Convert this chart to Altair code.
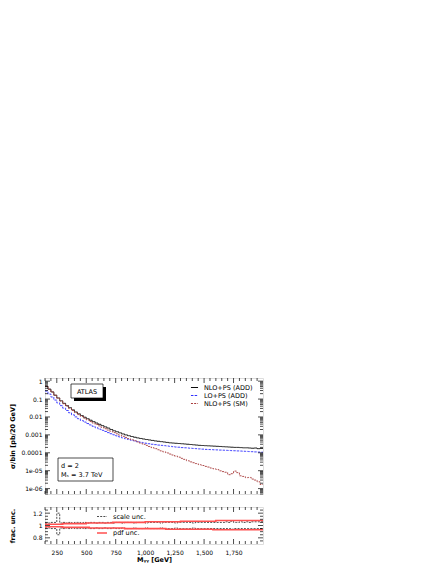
import altair as alt
import pandas as pd

W, H1, H2 = 218, 116, 37

bin_lo = [150 + 25 * i for i in range(74)]
x_end = 2000

nlo_add = [0.52, 0.36, 0.25, 0.165, 0.115, 0.080, 0.058, 0.043, 0.033, 0.025,
           0.019, 0.015, 0.012, 0.0097, 0.0080, 0.0066, 0.0055, 0.0046, 0.0039, 0.0033,
           0.0028, 0.0024, 0.0020, 0.0017, 0.0015, 0.0013, 0.00113, 0.00100, 0.00090, 0.00081,
           0.00074, 0.00068, 0.00063, 0.00059, 0.00055, 0.00052, 0.00049, 0.00046, 0.00044, 0.00042,
           0.00040, 0.00038, 0.00036, 0.00035, 0.00034, 0.00033, 0.00032, 0.00031, 0.00030, 0.00029,
           0.00028, 0.00027, 0.00026, 0.000255, 0.00025, 0.000245, 0.00024, 0.000235, 0.00023, 0.000225,
           0.00022, 0.000215, 0.00021, 0.000205, 0.00020, 0.00020, 0.000195, 0.00019, 0.00019, 0.000185,
           0.00018, 0.000185, 0.00017, 0.000175]
lo_add = [0.28, 0.19, 0.13, 0.088, 0.061, 0.043, 0.031, 0.023, 0.0172, 0.0131,
          0.0101, 0.0080, 0.0064, 0.0052, 0.0043, 0.0036, 0.0030, 0.0025, 0.0021, 0.0018,
          0.00155, 0.00134, 0.00116, 0.00101, 0.00088, 0.00077, 0.00068, 0.00061, 0.00055, 0.00050,
          0.00046, 0.00042, 0.00039, 0.00036, 0.00034, 0.00032, 0.00030, 0.000285, 0.00027, 0.00026,
          0.00025, 0.00024, 0.00023, 0.00022, 0.00021, 0.000205, 0.000195, 0.00019, 0.000185, 0.00018,
          0.000175, 0.00017, 0.000165, 0.00016, 0.000155, 0.000152, 0.00015, 0.000147, 0.000145, 0.000142,
          0.00014, 0.000137, 0.000135, 0.000132, 0.00013, 0.000127, 0.000125, 0.000122, 0.00012, 0.000117,
          0.000115, 0.000112, 0.00011, 0.000108]
nlo_sm = [0.52, 0.35, 0.245, 0.16, 0.112, 0.078, 0.055, 0.040, 0.030, 0.023,
          0.0175, 0.0136, 0.0107, 0.0086, 0.0069, 0.0056, 0.0046, 0.0038, 0.0032, 0.0026,
          0.0022, 0.00186, 0.00158, 0.00134, 0.00115, 0.00097, 0.00083, 0.00072, 0.00062, 0.00054,
          0.00047, 0.00041, 0.00035, 0.00030, 0.00026, 0.000225, 0.000195, 0.00017, 0.000148, 0.000128,
          0.000112, 9.8e-5, 8.5e-5, 7.5e-5, 6.5e-5, 5.7e-5, 4.9e-5, 4.3e-5, 3.6e-5, 3.1e-5,
          2.8e-5, 2.5e-5, 2.2e-5, 1.95e-5, 1.74e-5, 1.6e-5, 1.41e-5, 1.28e-5, 1.17e-5, 9.8e-6,
          8.9e-6, 8.2e-6, 6.0e-6, 6.8e-6, 9.5e-6, 7.8e-6, 5.2e-6, 4.8e-6, 4.1e-6, 4.2e-6,
          3.4e-6, 3.0e-6, 2.4e-6, 1.7e-6]

scale_up = [1.04, 1.04, 1.05, 1.05, 1.20, 1.04, 1.05, 1.04, 1.05, 1.04, 1.05, 1.05, 1.04, 1.05,
            1.04, 1.05, 1.05, 1.04, 1.05, 1.05, 1.04, 1.05, 1.05, 1.04, 1.05, 1.05, 1.04, 1.05,
            1.05, 1.05, 1.04, 1.05, 1.05, 1.05, 1.04, 1.05, 1.05, 1.05, 1.05, 1.04, 1.05, 1.05,
            1.05, 1.05, 1.04, 1.05, 1.05, 1.05, 1.05, 1.05, 1.04, 1.05, 1.05, 1.05, 1.05, 1.05,
            1.05, 1.05, 1.05, 1.05, 1.05, 1.06, 1.05, 1.07, 1.05, 1.05, 1.06, 1.05, 1.06, 1.05,
            1.06, 1.06, 1.06, 1.06]
scale_dn = [0.96, 0.96, 0.95, 0.95, 0.85, 0.96, 0.95, 0.96, 0.95, 0.96, 0.95, 0.95, 0.96, 0.95,
            0.96, 0.95, 0.95, 0.96, 0.95, 0.95, 0.96, 0.95, 0.95, 0.96, 0.95, 0.95, 0.96, 0.95,
            0.95, 0.95, 0.96, 0.95, 0.95, 0.95, 0.96, 0.95, 0.95, 0.95, 0.95, 0.96, 0.95, 0.95,
            0.95, 0.95, 0.96, 0.95, 0.95, 0.95, 0.95, 0.95, 0.96, 0.95, 0.95, 0.95, 0.95, 0.95,
            0.95, 0.95, 0.95, 0.95, 0.95, 0.95, 0.95, 0.94, 0.95, 0.95, 0.95, 0.95, 0.95, 0.95,
            0.95, 0.95, 0.95, 0.95]
pdf_up = [1.02, 1.02, 1.02, 1.02, 1.02, 1.02, 1.03, 1.03, 1.03, 1.03, 1.03, 1.03, 1.03, 1.03,
          1.04, 1.04, 1.04, 1.04, 1.04, 1.04, 1.04, 1.04, 1.04, 1.05, 1.05, 1.05, 1.05, 1.05,
          1.05, 1.05, 1.05, 1.05, 1.05, 1.05, 1.06, 1.06, 1.06, 1.06, 1.06, 1.06, 1.06, 1.06,
          1.06, 1.06, 1.06, 1.06, 1.07, 1.07, 1.07, 1.07, 1.07, 1.07, 1.07, 1.07, 1.07, 1.07,
          1.07, 1.07, 1.08, 1.08, 1.08, 1.08, 1.08, 1.08, 1.08, 1.08, 1.08, 1.08, 1.08, 1.08,
          1.08, 1.08, 1.08, 1.08]
pdf_dn = [0.98, 0.98, 0.98, 0.98, 0.98, 0.98, 0.97, 0.97, 0.97, 0.97, 0.97, 0.97, 0.97, 0.97,
          0.97, 0.96, 0.96, 0.96, 0.96, 0.96, 0.96, 0.96, 0.96, 0.96, 0.96, 0.96, 0.96, 0.95,
          0.95, 0.95, 0.95, 0.95, 0.95, 0.95, 0.95, 0.95, 0.95, 0.95, 0.95, 0.95, 0.95, 0.94,
          0.94, 0.94, 0.94, 0.94, 0.94, 0.94, 0.94, 0.94, 0.94, 0.94, 0.94, 0.94, 0.94, 0.94,
          0.94, 0.93, 0.93, 0.93, 0.93, 0.93, 0.93, 0.93, 0.93, 0.93, 0.93, 0.93, 0.93, 0.93,
          0.93, 0.93, 0.93, 0.93]

series_names = ["NLO+PS (ADD)", "LO+PS (ADD)", "NLO+PS (SM)"]
series_colors = ["#000000", "#3030ff", "#a83c3c"]
series_dash = [[1, 0], [2.5, 1.2], [2, 1.2]]

x_major = [250, 500, 750, 1000, 1250, 1500, 1750]
x_minor = [v for v in range(150, 2001, 50) if v % 250]
y_major = [1e-6, 1e-5, 1e-4, 1e-3, 1e-2, 1e-1, 1]
y_labels = ['1e-06', '1e-05', '0.0001', '0.001', '0.01', '0.1', '1']
y_minor = [j * 10.0 ** k for k in range(-7, 1) for j in range(2, 10) if 5e-7 <= j * 10.0 ** k <= 1.5]
r_major = [0.8, 1.0, 1.2]
r_labels = ['0.8', '1', '1.2']
r_minor = [0.75, 0.85, 0.9, 0.95, 1.05, 1.1, 1.15, 1.25]

FONT = "DejaVu Sans"


def step_rows(name, vals, field="v", key="series"):
    xs = bin_lo + [x_end]
    ys = list(vals) + [vals[-1]]
    return [{"m": a, field: b, key: name} for a, b in zip(xs, ys)]


rows = []
for n, v in zip(series_names, [nlo_add, lo_add, nlo_sm]):
    rows += step_rows(n, v)
df_main = pd.DataFrame(rows)

xscale = alt.Scale(domain=[150, 2000], nice=False, zero=False)
yscale = alt.Scale(type="log", domain=[5e-7, 1.5], nice=False)
rscale = alt.Scale(domain=[0.7, 1.3], nice=False, zero=False)

leg_main = alt.Legend(title=None, orient="none", legendX=145, legendY=5, labelFont=FONT,
                      labelFontSize=6.5, symbolType="stroke", symbolSize=50, symbolStrokeWidth=1,
                      rowPadding=0, labelOffset=5, padding=0)

lines = alt.Chart(df_main).mark_line(interpolate="step-after", strokeWidth=0.9).encode(
    x=alt.X("m:Q", scale=xscale,
            axis=alt.Axis(labels=False, ticks=False, domain=False, grid=False, title=None)),
    y=alt.Y("v:Q", scale=yscale,
            axis=alt.Axis(values=y_major, ticks=False, domain=False, grid=False,
                          labelExpr="%s[round(log(datum.value)/LN10)+6]" % str(y_labels),
                          labelFont=FONT, labelFontSize=6, labelPadding=3,
                          title="σ/bin [pb/20 GeV]", titleFont=FONT, titleFontSize=6.5,
                          titleFontWeight="bold", titleX=-30)),
    color=alt.Color("series:N", scale=alt.Scale(domain=series_names, range=series_colors),
                    legend=leg_main),
    strokeDash=alt.StrokeDash("series:N", scale=alt.Scale(domain=series_names, range=series_dash),
                              legend=leg_main),
)


def xticks(vals, size, h, xs):
    d = pd.DataFrame({"m": vals})
    b = alt.Chart(d).mark_rule(color="black", strokeWidth=0.7).encode(
        x=alt.X("m:Q", scale=xs, axis=None), y=alt.value(h), y2=alt.value(h - size))
    t = alt.Chart(d).mark_rule(color="black", strokeWidth=0.7).encode(
        x=alt.X("m:Q", scale=xs, axis=None), y=alt.value(0), y2=alt.value(size))
    return [b, t]


def yticks(vals, size, field, ys):
    d = pd.DataFrame({field: vals})
    l = alt.Chart(d).mark_rule(color="black", strokeWidth=0.7).encode(
        y=alt.Y(field + ":Q", scale=ys, axis=None), x=alt.value(0), x2=alt.value(size))
    r = alt.Chart(d).mark_rule(color="black", strokeWidth=0.7).encode(
        y=alt.Y(field + ":Q", scale=ys, axis=None), x=alt.value(W), x2=alt.value(W - size))
    return [l, r]


one = pd.DataFrame({"a": [0]})
atlas_shadow = alt.Chart(one).mark_rect(color="black").encode(
    x=alt.value(29), x2=alt.value(61), y=alt.value(9), y2=alt.value(23))
atlas_box = alt.Chart(one).mark_rect(fill="white", stroke="black", strokeWidth=0.7).encode(
    x=alt.value(26), x2=alt.value(58), y=alt.value(6), y2=alt.value(20))
atlas_txt = alt.Chart(one).mark_text(text="ATLAS", font=FONT, fontSize=6.5).encode(
    x=alt.value(42), y=alt.value(13.5))
par_box = alt.Chart(one).mark_rect(fill="white", stroke="black", strokeWidth=0.7).encode(
    x=alt.value(13), x2=alt.value(68), y=alt.value(80), y2=alt.value(103))
par_txt1 = alt.Chart(one).mark_text(text="d = 2", font=FONT, fontSize=6.5, align="left").encode(
    x=alt.value(16), y=alt.value(88))
par_txt2 = alt.Chart(one).mark_text(text="Mₛ = 3.7 TeV", font=FONT, fontSize=6.5, align="left").encode(
    x=alt.value(16), y=alt.value(97))

main = alt.layer(
    lines,
    *xticks(x_major, 5, H1, xscale), *xticks(x_minor, 3, H1, xscale),
    *yticks(y_major, 5, "v", yscale), *yticks(y_minor, 3, "v", yscale),
    atlas_shadow, atlas_box, atlas_txt, par_box, par_txt1, par_txt2,
).properties(width=W, height=H1).resolve_axis(x="independent", y="independent")

# lower panel
rrows = []
rrows += [dict(r, band="su") for r in step_rows("scale unc.", scale_up, "r", "kind")]
rrows += [dict(r, band="sd") for r in step_rows("scale unc.", scale_dn, "r", "kind")]
rrows += [dict(r, band="pu") for r in step_rows("pdf unc.", pdf_up, "r", "kind")]
rrows += [dict(r, band="pd") for r in step_rows("pdf unc.", pdf_dn, "r", "kind")]
df_r = pd.DataFrame(rrows)

kinds = ["scale unc.", "pdf unc."]
leg_r = alt.Legend(title=None, orient="none", legendX=51, legendY=4, labelFont=FONT, labelFontSize=6.5,
                   symbolType="stroke", symbolSize=100, rowPadding=7, labelOffset=5, padding=0)

rlines = alt.Chart(df_r).mark_line(interpolate="step-after").encode(
    x=alt.X("m:Q", scale=xscale,
            axis=alt.Axis(values=x_major, labelExpr="format(datum.value, ',')", ticks=False,
                          domain=False, grid=False,
                          labelFont=FONT, labelFontSize=6, labelPadding=5,
                          title="Mᵧᵧ [GeV]", titleFont=FONT, titleFontSize=6.5,
                          titleFontWeight="bold", titlePadding=1)),
    y=alt.Y("r:Q", scale=rscale,
            axis=alt.Axis(values=r_major, ticks=False, domain=False, grid=False,
                          labelExpr="%s[round((datum.value-0.8)/0.2)]" % str(r_labels),
                          labelFont=FONT, labelFontSize=6, labelPadding=3,
                          title="frac. unc.", titleFont=FONT, titleFontSize=6.5,
                          titleFontWeight="bold", titleX=-30)),
    detail="band:N",
    color=alt.Color("kind:N", scale=alt.Scale(domain=kinds, range=["#000000", "#ff5050"]), legend=leg_r),
    strokeDash=alt.StrokeDash("kind:N", scale=alt.Scale(domain=kinds, range=[[2, 1.2], [1, 0]]), legend=leg_r),
    strokeWidth=alt.StrokeWidth("kind:N", scale=alt.Scale(domain=kinds, range=[0.7, 1.6]), legend=leg_r),
    order=alt.Order("kind:N", sort="ascending"),
)

lower = alt.layer(
    rlines,
    *xticks(x_major, 5, H2, xscale), *xticks(x_minor, 3, H2, xscale),
    *yticks(r_major, 5, "r", rscale), *yticks(r_minor, 3, "r", rscale),
).properties(width=W, height=H2).resolve_axis(x="independent", y="independent")

chart = alt.vconcat(main, lower, spacing=11).resolve_scale(
    color="independent", strokeDash="independent", strokeWidth="independent"
).properties(
    padding={"left": 0, "top": 369, "right": 5, "bottom": 2}
).configure_view(stroke="black", strokeWidth=0.8).configure(background="white")

chart.save("out.html", embed_options={"renderer": "svg", "actions": False})
